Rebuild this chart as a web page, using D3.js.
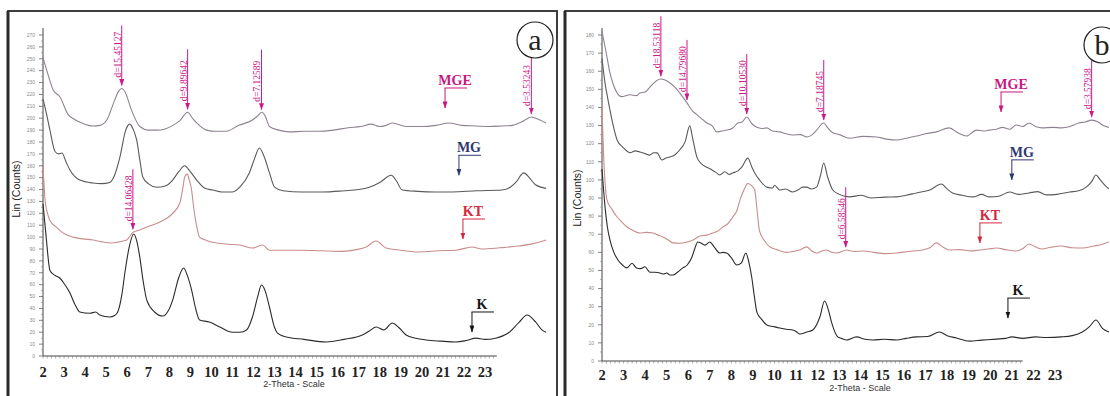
<!DOCTYPE html>
<html>
<head>
<meta charset="utf-8">
<script src="https://cdn.jsdelivr.net/npm/d3@7"></script>
<style>
  body { margin: 0; background: #fff; }
  svg { display: block; }
</style>
</head>
<body>
<svg id="chart" width="1110" height="396"></svg>
<script>
// XRD patterns, values as [2-theta, Lin counts]
const seriesNames = ['MGE', 'MG', 'KT', 'K']

// panel a
const aMGE = [[2.0,251],[2.25,236],[2.48,224],[2.8,218],[3.2,203],[3.5,199],[3.85,196],[4.37,193.5],[4.7,194],[5.03,198.5],[5.4,215],[5.6,223],[5.74,225],[5.9,222],[6.2,207],[6.6,193],[7.0,190],[7.4,190],[7.8,191],[8.17,194],[8.5,198],[8.87,205],[9.1,200],[9.3,196],[9.77,190],[10.2,189],[10.7,189],[11.3,194],[11.95,198.5],[12.2,202],[12.4,205],[12.55,202],[12.76,193],[13.2,190],[13.7,188.5],[14.4,189],[15.1,189],[15.8,190],[16.5,192],[17.1,193],[17.6,195],[17.97,193],[18.3,194],[18.6,196],[19.25,193],[20.0,193],[20.67,194],[21.3,196],[21.9,194],[22.57,193.5],[23.2,193],[23.8,193.5],[24.3,194],[24.75,197],[25.2,201],[25.4,200],[25.9,196]]
const aMG = [[2.0,216],[2.15,205],[2.33,190],[2.57,172],[2.75,170],[2.9,170.7],[3.1,163],[3.28,156.4],[3.75,148],[4.37,145.5],[4.8,145],[5.17,146],[5.4,152],[5.65,167],[5.93,190],[6.12,195],[6.3,190],[6.45,181.7],[6.6,165],[6.74,150.5],[7.0,145],[7.4,142],[7.8,143],[8.16,148],[8.45,155],[8.73,160],[9.0,155],[9.3,148],[9.7,141],[10.06,139.6],[10.5,138],[11.0,138],[11.4,143],[11.8,154],[12.05,166],[12.28,175],[12.5,168],[12.76,154],[13.0,142],[13.4,139],[14.3,138],[15.3,138],[16.3,139],[17.0,140],[17.5,142],[18.0,146],[18.54,152],[18.8,147],[19.06,139.6],[19.8,138.5],[20.6,138],[21.43,138],[22.6,139],[23.8,139.6],[24.2,142],[24.46,146],[24.84,154],[25.1,150],[25.4,144],[25.9,141]]
const aKT = [[2.0,160],[2.1,131],[2.2,121],[2.33,114],[2.66,108],[3.0,103],[3.42,100],[3.9,98.5],[4.37,97.6],[4.8,96],[5.27,95],[5.6,96],[5.98,97.6],[6.27,104],[6.6,106],[6.93,108.5],[7.55,112.7],[8.16,120],[8.5,128.7],[8.65,142],[8.73,150.5],[8.85,153],[8.95,148],[9.06,139.6],[9.15,126],[9.25,114],[9.44,100],[9.8,97],[10.25,95],[10.8,94],[11.34,93.4],[11.95,90.8],[12.43,93.4],[12.76,89],[13.1,89],[14.3,89],[15.2,88.5],[16.2,88],[16.9,89.5],[17.35,91.7],[17.83,96.7],[18.3,90.8],[19.0,89],[19.87,87.5],[20.8,88.5],[21.62,89],[22.38,91.7],[22.85,90],[23.7,91],[24.6,92.5],[25.3,94.5],[25.9,97.6]]
const aK = [[2.0,128],[2.15,100],[2.33,72],[2.55,68],[2.8,65.6],[3.0,61],[3.28,53],[3.5,44],[3.75,37],[4.23,36],[4.5,37],[4.7,34.5],[5.17,32.8],[5.4,34],[5.55,37],[5.75,52],[5.89,70],[6.1,92],[6.31,102.6],[6.45,97],[6.6,83],[6.75,64],[6.93,47],[7.3,37],[7.69,33.6],[7.95,38],[8.16,47],[8.45,66],[8.68,74],[8.85,68],[9.06,55.5],[9.25,40],[9.44,30.3],[9.9,28.6],[10.4,24.4],[11.0,20],[11.35,20],[11.67,21.9],[11.95,32.8],[12.2,50],[12.38,59.7],[12.55,55],[12.76,41],[13.0,24],[13.14,19.3],[13.56,16],[14.4,14],[15.46,11.8],[16.3,14],[17.17,17.7],[17.5,21],[17.83,24.4],[18.2,21.9],[18.59,27.8],[18.9,24],[19.25,17.7],[19.7,15],[20.2,13.5],[20.9,12.5],[21.62,11.8],[22.1,13],[22.57,15],[23.0,14],[23.5,15],[24.1,19.3],[24.6,28],[25.0,34.5],[25.4,28.6],[25.7,22],[25.9,20]]

// panel b
const bMGE = [[2.0,182],[2.1,176],[2.23,168],[2.35,160],[2.5,153.5],[2.7,148],[2.9,146],[3.3,147],[3.6,146.5],[3.76,148],[4.0,148.5],[4.2,151],[4.45,154],[4.7,155.7],[4.95,155],[5.15,153.5],[5.4,151],[5.6,148],[5.94,142.5],[6.2,138],[6.4,136],[6.6,134],[6.86,131.4],[7.1,130],[7.32,126.5],[7.55,127],[7.8,127.5],[8.05,128.5],[8.3,131.4],[8.5,132],[8.71,134.7],[8.95,131],[9.18,129],[9.4,128.4],[9.64,128.7],[9.9,127],[10.24,126.5],[10.5,125.6],[10.84,124.8],[11.2,125],[11.49,123.7],[11.75,125],[11.95,127.5],[12.28,131.4],[12.45,129],[12.7,126],[13.0,125],[13.48,123],[14.1,124],[14.73,123.7],[15.2,122.5],[15.66,122],[16.1,123],[16.58,124.2],[17.0,125.5],[17.5,126.5],[18.1,128.7],[18.5,126],[18.9,124.2],[19.36,127.5],[19.7,127],[19.96,127.5],[20.3,128],[20.56,129],[20.9,128],[21.2,130.3],[21.5,129.5],[21.8,131.4],[22.1,129.5],[22.4,128.7],[22.9,129],[23.3,128.7],[23.7,129.5],[24.1,131.4],[24.4,132],[24.7,133],[25.0,132],[25.2,130.3],[25.5,129]]
const bMG = [[2.0,167],[2.07,160],[2.14,153.5],[2.25,146],[2.37,138.6],[2.5,131],[2.7,122],[2.97,118],[3.3,115],[3.55,116],[3.76,115.4],[4.0,114.5],[4.2,113.7],[4.4,115],[4.55,114.9],[4.78,111],[4.95,112],[5.15,112.6],[5.4,114],[5.6,116.5],[5.85,121],[6.07,129.8],[6.2,123],[6.4,112.6],[6.6,109],[6.86,107],[7.1,105.5],[7.3,104],[7.46,102.7],[7.7,104.5],[7.9,103],[8.06,103.8],[8.3,105],[8.48,107],[8.76,112],[8.95,107],[9.08,103.8],[9.3,100],[9.64,96],[9.9,95.5],[10.0,97],[10.24,94.4],[10.5,95],[10.84,93.3],[11.1,94.5],[11.3,96],[11.49,96],[11.7,95],[11.95,96],[12.12,102],[12.28,109.3],[12.45,102],[12.7,94.4],[13.0,92],[13.48,90.6],[14.0,91.5],[14.5,90],[15.1,90.5],[15.66,90.6],[16.1,91.5],[16.58,92.8],[17.2,94.4],[17.74,97.7],[18.0,95],[18.25,92.8],[18.7,91.5],[19.2,90.6],[19.6,92],[19.96,90.6],[20.4,91],[20.9,93.3],[21.3,92],[21.8,92.8],[22.2,93.5],[22.6,91.7],[23.1,92],[23.67,93.3],[24.1,94],[24.45,96],[24.7,99],[24.9,102.7],[25.1,100],[25.4,96],[25.5,95]]
const bKT = [[2.0,140],[2.07,115],[2.15,97],[2.23,89],[2.45,84],[2.7,79.5],[2.9,77],[3.16,74],[3.45,72],[3.76,70.7],[4.05,71],[4.36,70.7],[4.6,69.5],[4.82,68.5],[5.05,67],[5.29,65.2],[5.6,65],[5.94,65.7],[6.25,67],[6.54,69],[6.85,69.5],[7.14,70.7],[7.4,72],[7.6,74],[7.85,76],[8.06,79.5],[8.25,83],[8.4,89],[8.6,95],[8.76,98],[8.92,97],[9.08,94.4],[9.2,82],[9.3,72],[9.5,67],[9.78,63],[10.1,61.5],[10.56,60],[10.85,60.5],[11.17,61.3],[11.49,63],[11.7,61],[11.95,59.6],[12.15,60.5],[12.4,61.3],[12.65,60],[12.88,59.6],[13.34,61.3],[13.7,60.5],[14.08,60.7],[14.6,60],[15.1,59.3],[15.66,59.6],[16.2,60.5],[16.86,61.3],[17.2,62.5],[17.5,65.2],[17.8,63],[18.1,61.3],[18.6,61.5],[19.1,60.8],[19.5,61.3],[19.9,61.8],[20.3,62.4],[20.7,61.5],[21.2,60.7],[21.5,62],[21.8,64.6],[22.1,63],[22.4,61.8],[22.8,62.8],[23.3,63.5],[23.8,62.5],[24.27,62.4],[24.8,63.5],[25.2,64.5],[25.5,65.7]]
const bK = [[2.0,106],[2.07,95],[2.15,84],[2.25,74],[2.37,66.8],[2.55,60],[2.74,55.8],[2.95,53],[3.16,51.4],[3.39,54],[3.6,51.4],[3.8,51],[3.99,52],[4.22,49],[4.45,49],[4.69,48.6],[4.85,48],[5.0,48.6],[5.15,47.5],[5.29,47.5],[5.5,49],[5.75,51.4],[5.95,53],[6.17,57.4],[6.3,62],[6.44,65.7],[6.6,65],[6.77,64],[7.0,65.7],[7.2,63],[7.46,59.6],[7.6,60],[7.78,59.6],[8.0,57],[8.25,53],[8.45,54],[8.67,59.6],[8.8,55],[8.94,46.4],[9.06,36],[9.18,27],[9.4,23],[9.64,19.9],[9.95,19],[10.24,18.2],[10.55,17.5],[10.84,17.1],[11.0,16.3],[11.17,14.9],[11.5,16],[11.77,17.1],[12.1,24.3],[12.32,33.1],[12.5,28],[12.65,21],[12.93,13.3],[13.1,12.5],[13.34,11.6],[13.8,13.3],[14.2,12],[14.55,11.6],[15.1,12],[15.66,11.6],[16.1,12.5],[16.58,13.3],[17.1,13.5],[17.65,16],[18.0,14],[18.43,12.7],[19.04,11],[19.6,11.5],[20.3,12.1],[20.7,12.5],[21.0,13.3],[21.5,12.5],[22.1,13.3],[22.6,13],[23.3,13.3],[23.8,14],[24.27,16],[24.6,19],[24.9,22.6],[25.2,18],[25.5,16]]

// peak annotations: 2-theta, label, which pattern
const aPeaks = [[5.74,'d=15.45127','MGE'],[8.87,'d=9.89642','MGE'],[12.38,'d=7.12589','MGE'],[25.2,'d=3.53243','MGE'],[6.27,'d=14.06428','KT']]
const bPeaks = [[4.73,'d=18.53118','MGE'],[5.94,'d=14.79680','MGE'],[8.71,'d=10.10530','MGE'],[12.28,'d=7.18745','MGE'],[24.7,'d=3.57938','MGE'],[13.3,'d=6.58546','KT']]

// sample tags: name, 2-theta and counts of the arrow tip
const aTags = [['MGE',21.1,208.6],['MG',21.76,152],['KT',21.95,98.4],['K',22.38,20.2]]
const bTags = [['MGE',20.5,137.5],['MG',21.0,100],['KT',19.52,65.2],['K',20.82,23.7]]

const xTickLabels = [2,3,4,5,6,7,8,9,10,11,12,13,14,15,16,17,18,19,20,21,22,23]
const yTicksA = [0,10,20,30,40,50,60,70,80,90,100,110,120,130,140,150,160,170,180,190,200,210,220,230,240,250,260,270]
const yTicksB = [0,10,20,30,40,50,60,70,80,90,100,110,120,130,140,150,160,170,180]

const lineColors = { MGE: '#8e8290', MG: '#595959', KT: '#c98c8c', K: '#2a2a2a' }
const tagColors = { MGE: '#c8187f', MG: '#2f3672', KT: '#d3283c', K: '#151515' }
const peakColor = '#cc1a8a'

const panels = [
  { name: 'a', frameX: 8, frameW: 549, x: [2, 26], xr: [43, 548.2], y: [0, 270], yr: [356, 35],
    axisEnd: 23.56, yTicks: yTicksA, series: [aMGE, aMG, aKT, aK], peaks: aPeaks, tags: aTags,
    tickY: 377, titleX: 294, titleY: 387, linX: 20, linY: 189, circle: [535, 40] },
  { name: 'b', frameX: 565, frameW: 600, x: [2, 25.5], xr: [602, 1108.9], y: [0, 180], yr: [361, 35],
    axisEnd: 21.5, yTicks: yTicksB, series: [bMGE, bMG, bKT, bK], peaks: bPeaks, tags: bTags,
    tickY: 380, titleX: 860, titleY: 391, linX: 581, linY: 198, circle: [1102, 45] }
]

const svg = d3.select('#chart')
const defs = svg.append('defs')

const arrow = (id, color) => {
  defs.append('marker')
    .attr('id', id)
    .attr('viewBox', '0 0 7 5')
    .attr('refX', 6.5)
    .attr('refY', 2.5)
    .attr('markerWidth', 7)
    .attr('markerHeight', 5)
    .attr('markerUnits', 'userSpaceOnUse')
    .attr('orient', 'auto')
    .append('path')
    .attr('d', 'M0,0 L7,2.5 L0,5 Z')
    .attr('fill', color)
}
arrow('peak', peakColor)
seriesNames.forEach((n) => arrow('tag' + n, tagColors[n]))

// value of a pattern at a given 2-theta
const valueAt = (data, t) => {
  const i = d3.bisector((d) => d[0]).left(data, t)
  if (i <= 0) return data[0][1]
  if (i >= data.length) return data[data.length - 1][1]
  const a = data[i - 1], b = data[i]
  return a[1] + ((t - a[0]) / (b[0] - a[0])) * (b[1] - a[1])
}

panels.forEach((p) => {
  const x = d3.scaleLinear().domain(p.x).range(p.xr)
  const y = d3.scaleLinear().domain(p.y).range(p.yr)
  const g = svg.append('g')

  // frame (left edge drawn heavier, as in the scan)
  g.append('rect')
    .attr('x', p.frameX)
    .attr('y', 11)
    .attr('width', p.frameW)
    .attr('height', 420)
    .attr('fill', 'none')
    .attr('stroke', '#2b2b2b')
    .attr('stroke-width', 1.8)
  g.append('line')
    .attr('x1', p.frameX).attr('x2', p.frameX)
    .attr('y1', 11).attr('y2', 396)
    .attr('stroke', '#2b2b2b').attr('stroke-width', 3)

  // y axis
  const x0 = x(p.x[0])
  g.append('line')
    .attr('x1', x0).attr('x2', x0)
    .attr('y1', y(0)).attr('y2', 28)
    .attr('stroke', '#444').attr('stroke-width', 1)

  g.selectAll('.ytick')
    .data(p.yTicks)
    .join('line')
    .attr('x1', x0 - 4).attr('x2', x0)
    .attr('y1', (d) => y(d)).attr('y2', (d) => y(d))
    .attr('stroke', '#666').attr('stroke-width', 0.8)

  g.selectAll('.yminor')
    .data(p.yTicks.slice(1).map((d) => d - 5))
    .join('line')
    .attr('x1', x0 - 2).attr('x2', x0)
    .attr('y1', (d) => y(d)).attr('y2', (d) => y(d))
    .attr('stroke', '#888').attr('stroke-width', 0.6)

  g.selectAll('.ylab')
    .data(p.yTicks)
    .join('text')
    .attr('x', x0 - 8)
    .attr('y', (d) => y(d))
    .attr('dy', '0.35em')
    .attr('text-anchor', 'end')
    .style('font-family', 'Liberation Sans, Arial, sans-serif')
    .style('font-size', '5px')
    .style('fill', '#8a8a8a')
    .text((d) => d)

  // x axis
  g.append('line')
    .attr('x1', x0).attr('x2', x(p.axisEnd))
    .attr('y1', y(0)).attr('y2', y(0))
    .attr('stroke', '#444').attr('stroke-width', 1)

  g.selectAll('.xminor')
    .data(d3.range(p.x[0], p.axisEnd, 0.2))
    .join('line')
    .attr('x1', (d) => x(d)).attr('x2', (d) => x(d))
    .attr('y1', y(0)).attr('y2', y(0) + 2.5)
    .attr('stroke', '#777').attr('stroke-width', 0.6)

  g.selectAll('.xlab')
    .data(xTickLabels)
    .join('text')
    .attr('x', (d) => x(d))
    .attr('y', p.tickY)
    .attr('text-anchor', 'middle')
    .style('font-family', 'Liberation Serif, Times New Roman, serif')
    .style('font-weight', 'bold')
    .style('font-size', '14.5px')
    .style('fill', '#222')
    .text((d) => d)

  g.append('text')
    .attr('x', p.titleX)
    .attr('y', p.titleY)
    .attr('text-anchor', 'middle')
    .style('font-family', 'Liberation Sans, Arial, sans-serif')
    .style('font-size', '9px')
    .style('fill', '#333')
    .text('2-Theta - Scale')

  g.append('text')
    .attr('transform', `translate(${p.linX},${p.linY}) rotate(-90)`)
    .attr('text-anchor', 'middle')
    .style('font-family', 'Liberation Sans, Arial, sans-serif')
    .style('font-size', '10.5px')
    .style('fill', '#222')
    .text('Lin (Counts)')

  // patterns
  const line = d3.line()
    .x((d) => x(d[0]))
    .y((d) => y(d[1]))
    .curve(d3.curveMonotoneX)

  p.series.forEach((s, i) => {
    g.append('path')
      .datum(s)
      .attr('fill', 'none')
      .attr('stroke', lineColors[seriesNames[i]])
      .attr('stroke-width', 1.1)
      .attr('d', line)
  })

  // d-spacing arrows
  p.peaks.forEach(([t, label, on]) => {
    const px = x(t)
    const tip = y(valueAt(p.series[seriesNames.indexOf(on)], t)) - 3
    g.append('line')
      .attr('x1', px).attr('x2', px)
      .attr('y1', tip - 60).attr('y2', tip)
      .attr('stroke', peakColor).attr('stroke-width', 1)
      .attr('marker-end', 'url(#peak)')
    g.append('text')
      .attr('transform', `translate(${px - 1},${tip - 8}) rotate(-90)`)
      .style('font-family', 'Liberation Serif, Times New Roman, serif')
      .style('font-size', '9.5px')
      .style('fill', peakColor)
      .text(label)
  })

  // sample tags
  p.tags.forEach(([name, t, c]) => {
    const px = x(t)
    const tip = y(c)
    g.append('line')
      .attr('x1', px).attr('x2', px)
      .attr('y1', tip - 20).attr('y2', tip)
      .attr('stroke', tagColors[name]).attr('stroke-width', 1)
      .attr('marker-end', `url(#tag${name})`)
    g.append('line')
      .attr('x1', px - 0.5).attr('x2', px + 22)
      .attr('y1', tip - 20).attr('y2', tip - 20)
      .attr('stroke', tagColors[name]).attr('stroke-width', 1)
    g.append('text')
      .attr('x', px + 10)
      .attr('y', tip - 23)
      .attr('text-anchor', 'middle')
      .style('font-family', 'Liberation Serif, Times New Roman, serif')
      .style('font-weight', 'bold')
      .style('font-size', '14px')
      .style('fill', tagColors[name])
      .text(name)
  })

  // panel letter
  g.append('circle')
    .attr('cx', p.circle[0]).attr('cy', p.circle[1]).attr('r', 18)
    .attr('fill', '#fff').attr('stroke', '#222').attr('stroke-width', 1.2)
  g.append('text')
    .attr('x', p.circle[0]).attr('y', p.circle[1])
    .attr('dy', '0.32em')
    .attr('text-anchor', 'middle')
    .style('font-family', 'Liberation Serif, Times New Roman, serif')
    .style('font-size', '30px')
    .style('fill', '#222')
    .text(p.name)
})
</script>
</body>
</html>
